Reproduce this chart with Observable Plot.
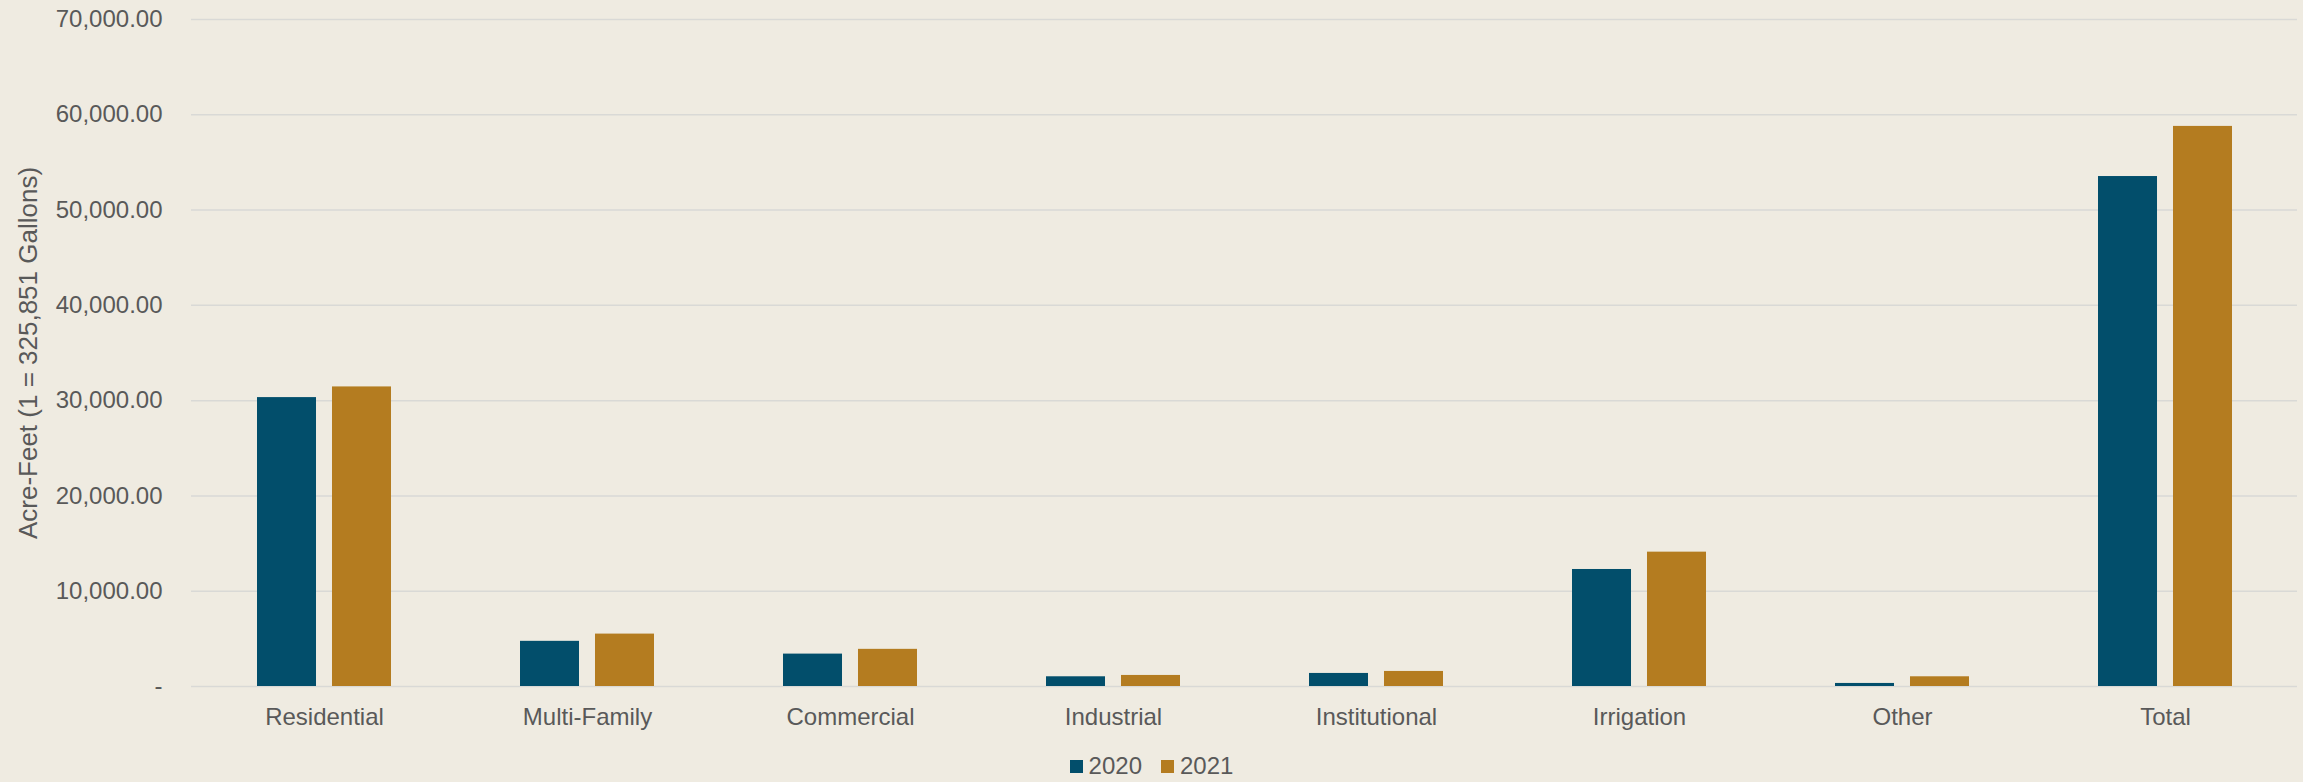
<!DOCTYPE html>
<html>
<head>
<meta charset="utf-8">
<script src="https://cdn.jsdelivr.net/npm/d3@7"></script>
<script src="https://cdn.jsdelivr.net/npm/@observablehq/plot@0.6"></script>
<style>
  html, body { margin: 0; padding: 0; background: #efebe1; }
  body { width: 2303px; height: 782px; overflow: hidden; font-family: "Liberation Sans", Arial, sans-serif; }
  #legend { height: 32px; display: flex; justify-content: center; align-items: center; gap: 19px; font-size: 24px; color: #595959; }
  .item { display: flex; align-items: center; gap: 6px; }
  .sw { width: 13px; height: 13px; display: inline-block; }
</style>
</head>
<body>
<div id="chart"></div>
<div id="legend"></div>
<script>
const categories = ["Residential", "Multi-Family", "Commercial", "Industrial", "Institutional", "Irrigation", "Other", "Total"];
const years = ["2020", "2021"];
const values2020 = [30320, 4740, 3400, 1020, 1370, 12280, 320, 53520];
const values2021 = [31440, 5500, 3900, 1160, 1580, 14100, 1020, 58780];
const colors = ["#024e6b", "#b47c20"];
const yTicks = [0, 10000, 20000, 30000, 40000, 50000, 60000, 70000];
const yLabel = "Acre-Feet (1 = 325,851 Gallons)";

const rows2020 = categories.map((c, i) => ({category: c, year: years[0], value: values2020[i]}));
const rows2021 = categories.map((c, i) => ({category: c, year: years[1], value: values2021[i]}));

const width = 2303, height = 750;
const marginLeft = 191, marginRight = 6;
const paddingInner = 0.491;
const step = (width - marginLeft - marginRight) / categories.length;
const groupW = step * (1 - paddingInner);
const barW = 59;
const inset = groupW - barW;

const fmt = d3.format(",.2f");
const textColor = "#595959";

const plot = Plot.plot({
  width, height,
  marginLeft, marginRight, marginTop: 19, marginBottom: 64,
  style: {background: "#efebe1", fontFamily: "'Liberation Sans', Arial, sans-serif", fontSize: "24px", color: textColor},
  x: {domain: categories, paddingInner, paddingOuter: paddingInner / 2, label: null, tickSize: 0, tickPadding: 21},
  y: {domain: [0, 70000], ticks: yTicks, tickFormat: d => d === 0 ? "-" : fmt(d), label: null, tickSize: 0, tickPadding: 29},
  marks: [
    Plot.ruleY(yTicks, {stroke: "#d9d9d6", strokeWidth: 1.5}),
    Plot.barY(rows2020, {x: "category", y: "value", fill: colors[0], insetRight: inset, insetLeft: 0}),
    Plot.barY(rows2021, {x: "category", y: "value", fill: colors[1], insetLeft: inset, insetRight: 0}),
    Plot.text([yLabel], {text: d => d, frameAnchor: "left", textAnchor: "middle", rotate: -90, dx: -163, fill: textColor, fontSize: 26})
  ]
});
document.getElementById("chart").appendChild(plot);

const legend = document.getElementById("legend");
years.forEach((y, i) => {
  const item = document.createElement("span");
  item.className = "item";
  const sw = document.createElement("span");
  sw.className = "sw";
  sw.style.background = colors[i];
  const t = document.createElement("span");
  t.textContent = y;
  item.appendChild(sw);
  item.appendChild(t);
  legend.appendChild(item);
});
</script>
</body>
</html>
